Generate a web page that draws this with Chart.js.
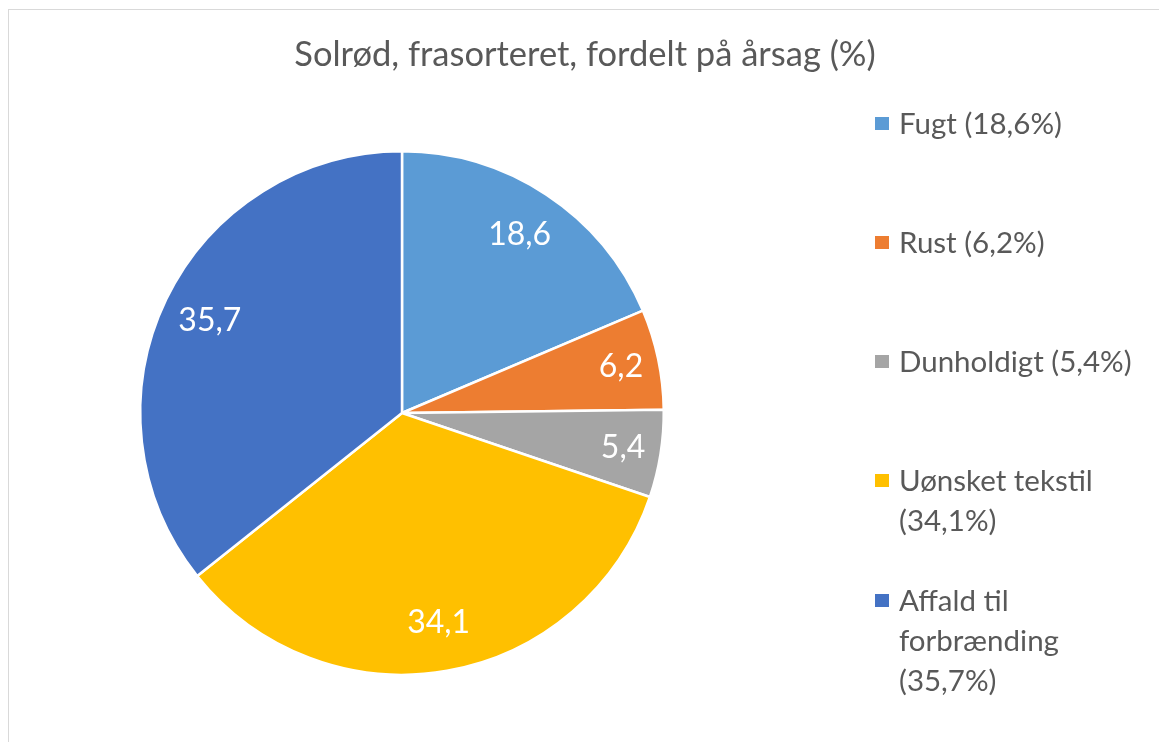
<!DOCTYPE html>
<html>
<head>
<meta charset="utf-8">
<script src="https://cdn.jsdelivr.net/npm/chart.js@4"></script>
<style>
  html, body { margin: 0; padding: 0; background: #fff; }
  #wrap { position: relative; width: 1159px; height: 742px; overflow: hidden; }
  #frame { position: absolute; left: 8px; top: 9px; width: 1160px; height: 740px; border: 1px solid #d9d9d9; box-sizing: border-box; }
  canvas { position: absolute; left: 0; top: 0; }
</style>
</head>
<body>
<div id="wrap">
  <div id="frame"></div>
  <canvas id="pieChart" width="1159" height="742"></canvas>
</div>
<script>
// data
const titleText = 'Solrød, frasorteret, fordelt på årsag (%)';
const categories = ['Fugt', 'Rust', 'Dunholdigt', 'Uønsket tekstil', 'Affald til forbrænding'];
const values = [18.6, 6.2, 5.4, 34.1, 35.7];
const colors = ['#5B9BD5', '#ED7D31', '#A5A5A5', '#FFC000', '#4472C4'];
// legend lines (wrapped like the original)
const legendLines = [
    ['Fugt (18,6%)'],
    ['Rust (6,2%)'],
    ['Dunholdigt (5,4%)'],
    ['Uønsket tekstil', '(34,1%)'],
    ['Affald til', 'forbrænding', '(35,7%)']
];

const FONT = 'Lato, "Open Sans", sans-serif';
const fmt = v => v.toFixed(1).replace('.', ',');

// labels, title, legend
const decorPlugin = {
    id: 'decor',
    afterDatasetsDraw(chart) {
        const ctx = chart.ctx;
        const meta = chart.getDatasetMeta(0);
        ctx.save();
        ctx.fillStyle = '#fff';
        ctx.font = '32px ' + FONT;
        ctx.textAlign = 'center';
        ctx.textBaseline = 'middle';
        meta.data.forEach((arc, i) => {
            const mid = (arc.startAngle + arc.endAngle) / 2;
            const k = values[i] < 10 ? 0.855 : 0.815;
            const r = arc.outerRadius * k;
            ctx.fillText(fmt(values[i]), arc.x + Math.cos(mid) * r, arc.y + Math.sin(mid) * r);
        });

        // title
        ctx.fillStyle = '#595959';
        ctx.font = '34.5px ' + FONT;
        ctx.fillText(titleText, 585, 55);

        // legend
        const tops = [124, 243, 362, 481, 601];
        ctx.font = '29.5px ' + FONT;
        ctx.textAlign = 'left';
        legendLines.forEach((lines, i) => {
            ctx.fillStyle = colors[i];
            ctx.fillRect(875, tops[i] - 7, 14, 13);
            ctx.fillStyle = '#595959';
            lines.forEach((t, j) => ctx.fillText(t, 899, tops[i] + j * 40));
        });
        ctx.restore();
    }
};

new Chart(document.getElementById('pieChart').getContext('2d'), {
    type: 'pie',
    data: {
        labels: categories,
        datasets: [{
            data: values,
            backgroundColor: colors,
            borderColor: '#ffffff',
            borderWidth: 2.5
        }]
    },
    options: {
        responsive: false,
        animation: false,
        layout: {
            padding: { left: 139, top: 150, right: 494, bottom: 66 }
        },
        plugins: {
            legend: { display: false },
            tooltip: { enabled: false }
        }
    },
    plugins: [decorPlugin]
});
</script>
</body>
</html>
